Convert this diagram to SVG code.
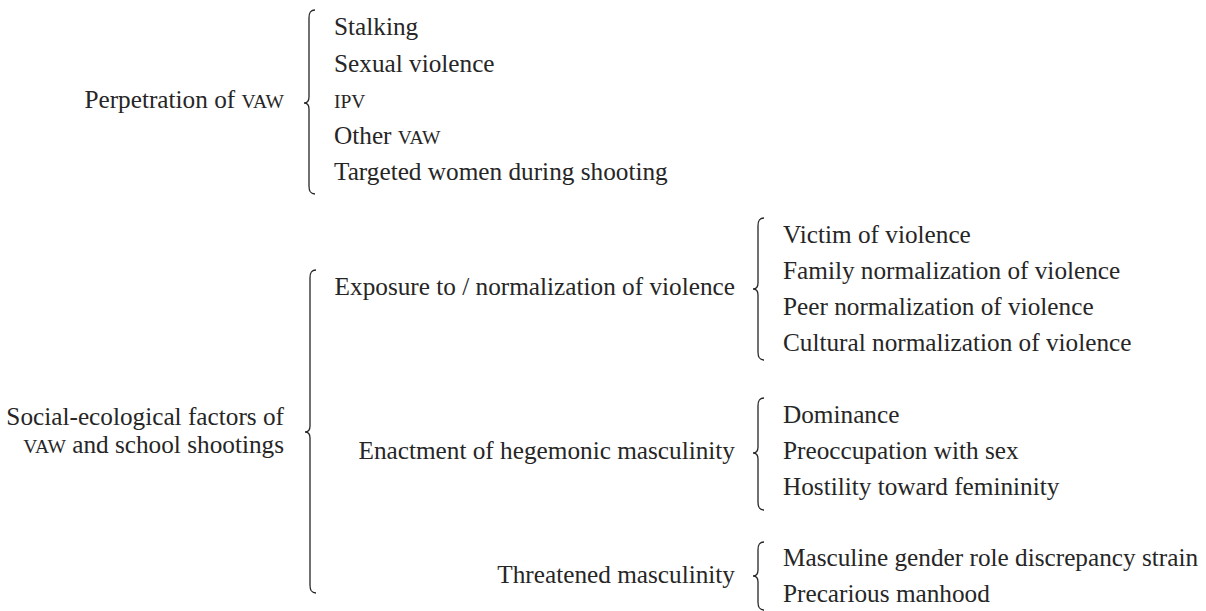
<svg xmlns="http://www.w3.org/2000/svg" width="1206" height="611" viewBox="0 0 1206 611">
<style>
text{font-family:"Liberation Serif","Times New Roman",serif;font-size:25.25px;fill:#262626}
.r{text-anchor:end}
.sc{font-size:19.5px}
.brace{fill:none;stroke:#262626;stroke-width:1.3}
</style>
<rect width="1206" height="611" fill="#ffffff"/>
<g id="connectors">
<path class="brace" d="M315,10 C310,10 309,13 309,18 L309,97 C309,101 307,103 304,103 C307,103 309,105 309,109 L309,186 C309,191 310,194 315,194"/>
<path class="brace" d="M316,270 C311,270 310,273 310,278 L310,426 C310,430 308,432 305,432 C308,432 310,434 310,438 L310,585 C310,590 311,593 316,593"/>
<path class="brace" d="M764,218 C759,218 758,221 758,226 L758,283 C758,287 756,289 753,289 C756,289 758,291 758,295 L758,352 C758,357 759,360 764,360"/>
<path class="brace" d="M764,398 C759,398 758,401 758,406 L758,447 C758,451 756,453 753,453 C756,453 758,455 758,459 L758,502 C758,507 759,510 764,510"/>
<path class="brace" d="M764,542 C759,542 758,545 758,550 L758,570 C758,574 756,576 753,576 C756,576 758,578 758,582 L758,602 C758,607 759,610 764,610"/>
</g>
<g id="perpetration"><text class="r" x="284" y="108">Perpetration of <tspan class="sc">VAW</tspan></text></g>
<g id="stalking"><text x="334" y="35">Stalking</text></g>
<g id="sexual-violence"><text x="334" y="72">Sexual violence</text></g>
<g id="ipv"><text x="334" y="108"><tspan class="sc">IPV</tspan></text></g>
<g id="other-vaw"><text x="334" y="144">Other <tspan class="sc">VAW</tspan></text></g>
<g id="targeted-women"><text x="334" y="180">Targeted women during shooting</text></g>
<g id="social-ecological"><text class="r" x="284" y="425">Social-ecological factors of</text><text class="r" x="284" y="453"><tspan class="sc">VAW</tspan> and school shootings</text></g>
<g id="exposure"><text class="r" x="735" y="295">Exposure to / normalization of violence</text></g>
<g id="enactment"><text class="r" x="735" y="459">Enactment of hegemonic masculinity</text></g>
<g id="threatened"><text class="r" x="735" y="583">Threatened masculinity</text></g>
<g id="victim"><text x="783" y="243">Victim of violence</text></g>
<g id="family"><text x="783" y="279">Family normalization of violence</text></g>
<g id="peer"><text x="783" y="315">Peer normalization of violence</text></g>
<g id="cultural"><text x="783" y="351">Cultural normalization of violence</text></g>
<g id="dominance"><text x="783" y="423">Dominance</text></g>
<g id="preoccupation"><text x="783" y="459">Preoccupation with sex</text></g>
<g id="hostility"><text x="783" y="495">Hostility toward femininity</text></g>
<g id="masculine-strain"><text x="783" y="566">Masculine gender role discrepancy strain</text></g>
<g id="precarious"><text x="783" y="602">Precarious manhood</text></g>
</svg>
